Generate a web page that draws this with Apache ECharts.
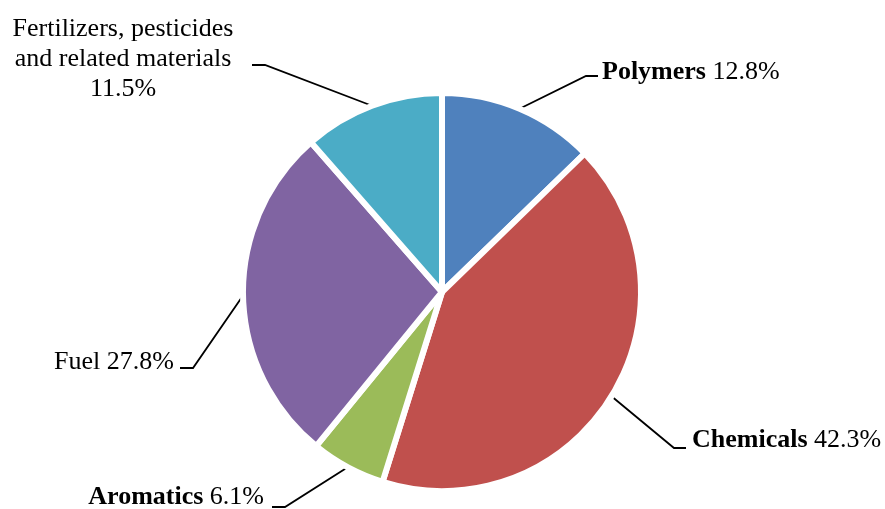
<!DOCTYPE html>
<html><head><meta charset="utf-8">
<script src="https://cdn.jsdelivr.net/npm/echarts@6/dist/echarts.min.js"></script>
<style>html,body{margin:0;padding:0;background:#fff}#c{width:885px;height:509px}</style>
</head><body><div id="c"></div>
<script>
const categories = ['Polymers', 'Chemicals', 'Aromatics', 'Fuel', 'Fertilizers, pesticides\nand related materials'];
const values = [12.8, 42.3, 6.1, 27.8, 11.5];
const boldNames = [true, true, true, false, false];
const colors = ['#4F81BD', '#C0504D', '#9BBB59', '#8064A2', '#4BACC6'];

// label anchors and leader-line elbows (layout only)
const labelPlacement = [
  {x: 602, y: 72, align: 'left', elbow: [-16, 4], end: [-4, 4]},
  {x: 692, y: 440, align: 'left', elbow: [-18, 8], end: [-6, 8]},
  {x: 264, y: 497, align: 'right', elbow: [21, 10], end: [8, 10]},
  {x: 174, y: 362, align: 'right', elbow: [19, 6], end: [6, 6]},
  {x: 123, y: 59, align: 'center', elbow: [142, 6], end: [129, 6]}
];

const chart = echarts.init(document.getElementById('c'), null, {renderer: 'canvas'});
const font = 'Liberation Serif, Times New Roman, serif';
chart.setOption({
  animation: false,
  backgroundColor: '#fff',
  series: [{
    type: 'pie',
    center: [442, 292],
    radius: 199,
    startAngle: 90,
    clockwise: true,
    avoidLabelOverlap: false,
    emphasis: {disabled: true},
    itemStyle: {borderColor: '#fff', borderWidth: 6},
    label: {
      show: true,
      position: 'outside',
      color: '#000',
      fontFamily: font,
      fontSize: 26,
      lineHeight: 30,
      formatter: function (p) {
        const i = p.dataIndex;
        const v = values[i].toFixed(1) + '%';
        if (boldNames[i]) return '{b|' + p.name + '} {n|' + v + '}';
        const lines = p.name.split('\n');
        if (lines.length > 1) return lines.map(l => '{n|' + l + '}').join('\n') + '\n{n|' + v + '}';
        return '{n|' + p.name + ' ' + v + '}';
      },
      rich: {
        b: {fontFamily: font, fontWeight: 'bold', fontSize: 26, lineHeight: 30, color: '#000'},
        n: {fontFamily: font, fontSize: 26, lineHeight: 30, color: '#000'}
      }
    },
    labelLine: {show: true, lineStyle: {color: '#000', width: 1.8}},
    labelLayout: function (params) {
      const pl = labelPlacement[params.dataIndex];
      const pts = params.labelLinePoints;
      const res = {x: pl.x, y: pl.y, align: pl.align, verticalAlign: 'middle'};
      if (pts) {
        res.labelLinePoints = [pts[0], [pl.x + pl.elbow[0], pl.y + pl.elbow[1]], [pl.x + pl.end[0], pl.y + pl.end[1]]];
      }
      return res;
    },
    data: categories.map((c, i) => ({name: c, value: values[i], itemStyle: {color: colors[i]}}))
  }]
});
</script></body></html>
